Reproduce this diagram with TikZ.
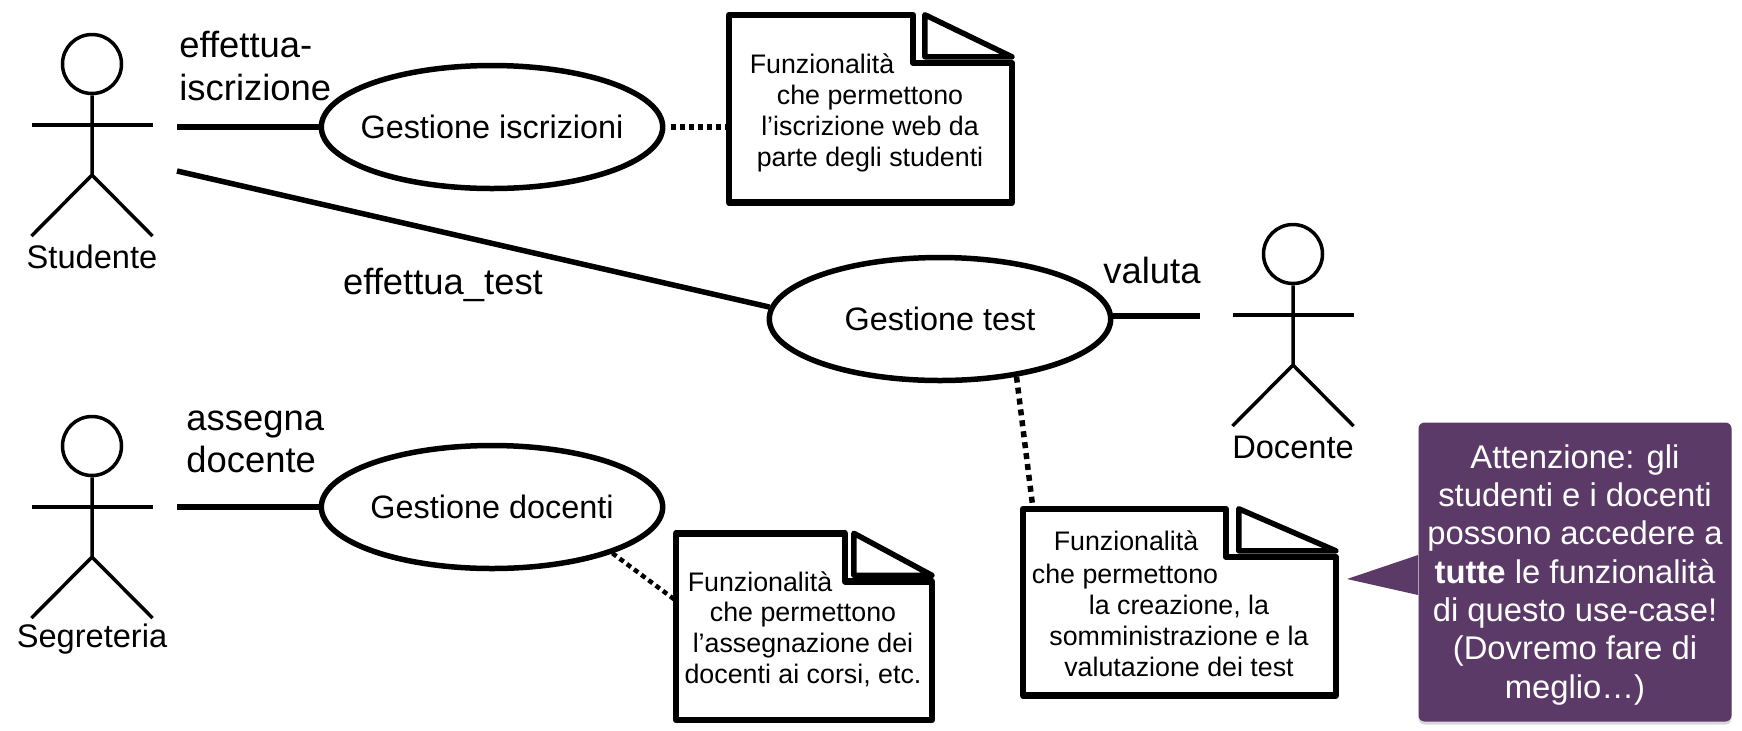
\documentclass[tikz,border=0pt]{standalone}
\usepackage{fontspec}
\setmainfont{Liberation Sans}
\usetikzlibrary{positioning, shapes.geometric, shadows}

\definecolor{calloutcol}{HTML}{5B3A68}

% Stick figure: name, position of the head, label
\newcommand{\actorfig}[3]{
    \node[acthead] (#1) at (#2) {};
    \coordinate (#1-arm) at ([yshift=-30.5pt]#1.center);
    \coordinate (#1-hip) at ([yshift=-55.5pt]#1.center);
    \coordinate (#1-footl) at ([xshift=-30.25pt, yshift=-86pt]#1.center);
    \coordinate (#1-footr) at ([xshift=30.25pt, yshift=-86pt]#1.center);
    \draw[actline] (#1.south) -- (#1-hip) -- (#1-footl);
    \draw[actline] (#1-hip) -- (#1-footr);
    \draw[actline, line width=2pt] ([xshift=-30.25pt]#1-arm) -- ([xshift=30.25pt]#1-arm);
    \node[actlabel] (#1-label) at ([yshift=-96.5pt]#1.center) {#3};
}

% Outline and turned corner of a note: name, notch from the right, fold size
\newcommand{\notefold}[3]{
    \draw[noteline] (#1.north west) -- ([xshift=-#2]#1.north east) -- ([xshift=-#2, yshift=-24pt]#1.north east)
        -- ([yshift=-24pt]#1.north east) -- (#1.south east) -- (#1.south west) -- cycle;
    \draw[noteline, line width=2.75pt] ([xshift=-#3]#1.north east) -- ([yshift=-21pt]#1.north east)
        -- ([xshift=-#3, yshift=-21pt]#1.north east) -- cycle;
}

\begin{document}
\begin{tikzpicture}[
        x=0.5pt, y=-0.5pt,
        usecase/.style={draw, ellipse, line width=2.75pt, minimum width=170.7pt, minimum height=61.5pt, inner sep=-12pt, font=\fontsize{16.2}{19}\selectfont},
        acthead/.style={draw, circle, line width=1.75pt, minimum size=29.5pt, inner sep=0pt},
        actline/.style={line width=1.75pt},
        actlabel/.style={inner sep=0pt, font=\fontsize{16.3}{19}\selectfont},
        notebox/.style={rectangle, minimum width=#1, inner sep=0pt},
        noteline/.style={line width=3.25pt, line join=round},
        notetext/.style={inner sep=0pt, align=center, font=\fontsize{13.4}{15.5}\selectfont},
        role/.style={inner sep=0pt, align=left, font=\fontsize{18.2}{21.5}\selectfont},
        link/.style={line width=2.75pt},
        dotlink/.style={line width=2.75pt, dash pattern=on 2.5pt off 2pt},
        callout/.style={fill=calloutcol, text=white, rounded corners=3pt, minimum width=156.5pt, minimum height=149.5pt, inner sep=0pt, align=center, font=\fontsize{16.4}{19.15}\selectfont, drop shadow={shadow xshift=0pt, shadow yshift=-1.5pt, opacity=0.3}}
    ]
    \useasboundingbox (0,0) rectangle (1742,730);

    % Actors
    \actorfig{studente}{92,64}{Studente}
    \actorfig{docente}{1293,254}{Docente}
    \actorfig{segreteria}{92,446}{Segreteria}

    % Use cases
    \node[usecase] (iscrizioni) at (492,127) {Gestione iscrizioni};
    \node[usecase] (test) at (940,319) {Gestione test};
    \node[usecase] (docenti) at (492,507) {Gestione docenti};

    % Notes
    \node[notebox=141pt, minimum height=93.5pt] (noteiscr) at (870.5,108.7) {};
    \node[notebox=127.5pt, minimum height=93pt] (notedoc) at (804,626.7) {};
    \node[notebox=156pt, minimum height=93pt] (notetest) at (1179.4,602.2) {};
    \notefold{noteiscr}{49.5pt}{43.5pt}
    \notefold{notedoc}{43.5pt}{39pt}
    \notefold{notetest}{55pt}{48.5pt}

    \node[notetext] (noteiscr-a) at (822,64) {Funzionalità};
    \node[notetext] (noteiscr-b) at (870,129) {che permettono\\l’iscrizione web da\\parte degli studenti};
    \node[notetext] (notedoc-a) at (760,582) {Funzionalità};
    \node[notetext] (notedoc-b) at (803,644) {che permettono\\l’assegnazione dei\\docenti ai corsi, etc.};
    \node[notetext] (notetest-a) at (1126,541) {Funzionalità};
    \node[notetext] (notetest-b) at (1125,577) {che permettono};
    \node[notetext] (notetest-c) at (1179,636) {la creazione, la\\somministrazione e la\\valutazione dei test};

    % Labels
    \node[role, anchor=west] (lab-iscr) at (179,66) {effettua-\\iscrizione};
    \node[role, anchor=center] (lab-test) at (443,285) {effettua\_test};
    \node[role, anchor=center] (lab-valuta) at (1152,270) {valuta};
    \node[role, anchor=west, font=\fontsize{18.2}{21}\selectfont] (lab-doc) at (186,442) {assegna\\docente};

    % Callout
    \node[callout] (warn) at (1575,572) {\rule{0pt}{14.6pt}Attenzione: gli\\studenti e i docenti\\possono accedere a\\\textbf{tutte} le funzionalità\\di questo use-case!\\(Dovremo fare di\\meglio…)};
    \coordinate (warn-tip) at (1347,579);
    \fill[calloutcol] (warn-tip) -- ([yshift=8.5pt]warn.west) -- ([yshift=-11.5pt]warn.west) -- cycle;

    % Connectors
    \coordinate (from-stud-a) at (177,127);
    \coordinate (from-stud-b) at (177,171);
    \coordinate (from-seg) at (177,507);
    \coordinate (to-doc) at (1200,316);
    \draw[link] (from-stud-a) -- (from-stud-a -| iscrizioni.west);
    \draw[link] (from-stud-b) -- (test.176);
    \draw[link] (from-seg) -- (docenti.west);
    \draw[link] (test.east |- to-doc) -- (to-doc);
    \draw[dotlink] ([xshift=3pt]iscrizioni.east) -- (iscrizioni.east -| noteiscr.west);
    \draw[dotlink, dash pattern=on 3pt off 2.5pt] (test.323) -- ([xshift=5pt]notetest.north west);
    \draw[dotlink, line width=2.25pt] (docenti.339) -- ([yshift=13pt]notedoc.west);
\end{tikzpicture}
\end{document}
